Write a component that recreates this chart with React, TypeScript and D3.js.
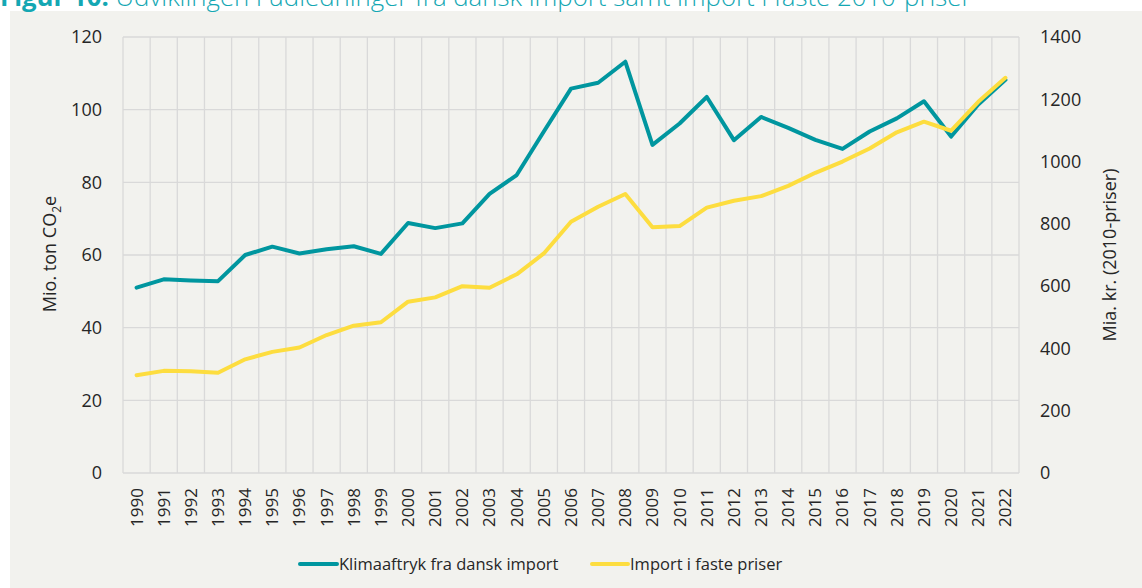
import React from "react";
import * as d3 from "d3";

const years: string[] = [
  "1990","1991","1992","1993","1994","1995","1996","1997","1998","1999",
  "2000","2001","2002","2003","2004","2005","2006","2007","2008","2009",
  "2010","2011","2012","2013","2014","2015","2016","2017","2018","2019",
  "2020","2021","2022",
];
const klimaaftryk: number[] = [
  51.0, 53.3, 53.0, 52.8, 60.0, 62.3, 60.4, 61.6, 62.4, 60.3,
  68.8, 67.4, 68.7, 76.8, 82.0, 94.0, 105.8, 107.4, 113.2, 90.3,
  96.2, 103.5, 91.6, 98.0, 95.0, 91.7, 89.2, 94.0, 97.6, 102.3,
  92.6, 101.4, 108.2,
];
const importFaste: number[] = [
  314, 328, 327, 322, 365, 389, 403, 443, 473, 484,
  550, 564, 600, 595, 638, 705, 807, 855, 896, 789,
  793, 852, 874, 889, 922, 964, 1000, 1042, 1094, 1128,
  1099, 1192, 1269,
];
const leftTicks: number[] = [0, 20, 40, 60, 80, 100, 120];
const rightTicks: number[] = [0, 200, 400, 600, 800, 1000, 1200, 1400];

const W = 1142;
const H = 588;
const plot = { left: 123, right: 1019, top: 37, bottom: 473 };
const FONT = "'Open Sans', 'Noto Sans', sans-serif";
const TEAL = "#00969F";
const YELLOW = "#FDDD3F";
const GRID = "#D9D9D9";
const TEXT = "#262626";

export default function App() {
  const x = d3.scaleBand<string>().domain(years).range([plot.left, plot.right]).padding(0);
  const cx = (y: string) => (x(y) as number) + x.bandwidth() / 2;
  const yL = d3.scaleLinear().domain([0, 120]).range([plot.bottom, plot.top]);
  const yR = d3.scaleLinear().domain([0, 1400]).range([plot.bottom, plot.top]);

  const lineL = d3.line<number>().x((_, i) => cx(years[i])).y((d) => yL(d));
  const lineR = d3.line<number>().x((_, i) => cx(years[i])).y((d) => yR(d));

  const boundaries = years.map((y) => x(y) as number).concat([plot.right]);

  return (
    <div style={{ position: "absolute", left: 0, top: 0 }}>
      <svg width={W} height={H} style={{ display: "block", fontFamily: FONT }}>
        <rect x={0} y={0} width={W} height={H} fill="#ffffff" />
        <rect x={10} y={11} width={W - 10} height={H - 11} fill="#F2F2EE" />
        <text x={0} y={6} fontSize={25.8} fontWeight={300} fill="#14A7B3">
          <tspan fontWeight="bold">Figur 10:</tspan>
          <tspan> Udviklingen i udledninger fra dansk import samt import i faste 2010-priser</tspan>
        </text>

        {/* grid */}
        {leftTicks.map((t) => (
          <line key={"h" + t} x1={plot.left} x2={plot.right} y1={yL(t)} y2={yL(t)} stroke={GRID} strokeWidth={1.3} />
        ))}
        {boundaries.map((b, i) => (
          <line key={"v" + i} x1={b} x2={b} y1={plot.top} y2={plot.bottom} stroke={GRID} strokeWidth={1.3} />
        ))}

        {/* left ticks */}
        {leftTicks.map((t) => (
          <text key={"lt" + t} x={102} y={yL(t)} dy="0.35em" textAnchor="end" fontSize={18} fill={TEXT}>
            {t}
          </text>
        ))}
        {/* right ticks */}
        {rightTicks.map((t) => (
          <text key={"rt" + t} x={1040} y={yR(t)} dy="0.35em" textAnchor="start" fontSize={18} fill={TEXT}>
            {t}
          </text>
        ))}
        {/* x ticks */}
        {years.map((y) => (
          <text
            key={"xt" + y}
            transform={`translate(${cx(y)},488) rotate(-90)`}
            dy="0.35em"
            textAnchor="end"
            fontSize={17}
            fill={TEXT}
          >
            {y}
          </text>
        ))}

        {/* axis titles */}
        <text transform="translate(50,254) rotate(-90)" textAnchor="middle" dy="0.35em" fontSize={18} fill={TEXT}>
          Mio. ton CO<tspan fontSize={12} dy="5">2</tspan><tspan dy="-5">e</tspan>
        </text>
        <text transform="translate(1110,255) rotate(-90)" textAnchor="middle" dy="0.35em" fontSize={18} fill={TEXT}>
          Mia. kr. (2010-priser)
        </text>

        {/* lines */}
        <path d={lineL(klimaaftryk) || ""} fill="none" stroke={TEAL} strokeWidth={4} strokeLinejoin="round" strokeLinecap="round" />
        <path d={lineR(importFaste) || ""} fill="none" stroke={YELLOW} strokeWidth={4} strokeLinejoin="round" strokeLinecap="round" />

        {/* legend */}
        <line x1={300} x2={337} y1={564} y2={564} stroke={TEAL} strokeWidth={4} strokeLinecap="round" />
        <text x={339} y={564} dy="0.35em" fontSize={16.5} fill={TEXT}>Klimaaftryk fra dansk import</text>
        <line x1={592} x2={628} y1={564} y2={564} stroke={YELLOW} strokeWidth={4} strokeLinecap="round" />
        <text x={630} y={564} dy="0.35em" fontSize={16.5} fill={TEXT}>Import i faste priser</text>
      </svg>
    </div>
  );
}
